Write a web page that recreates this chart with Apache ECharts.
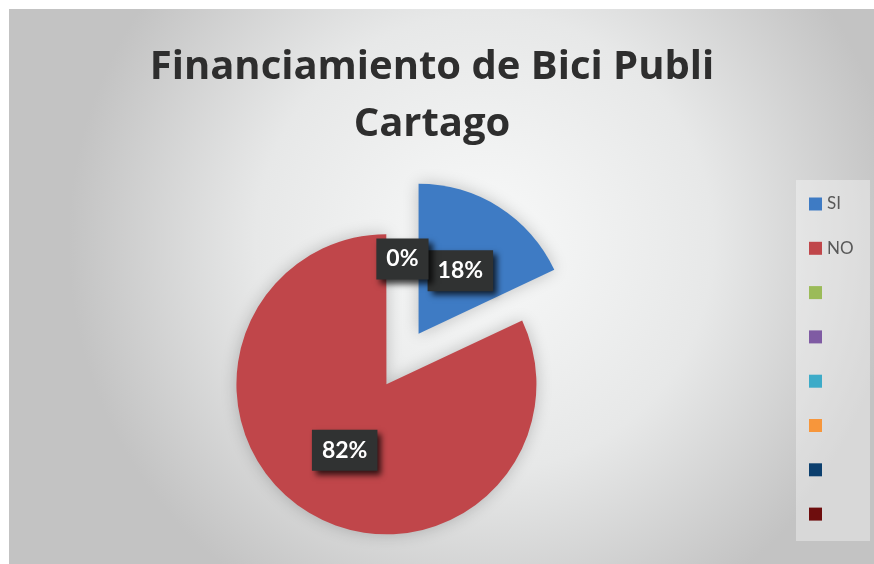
<!DOCTYPE html>
<html>
<head>
<meta charset="utf-8">
<script src="https://cdn.jsdelivr.net/npm/echarts@6/dist/echarts.min.js"></script>
<style>
  html, body { margin: 0; padding: 0; background: #fff; }
  #chart { position: absolute; left: 9px; top: 9px; width: 865px; height: 555px; }
</style>
</head>
<body>
<div id="chart"></div>
<script>
// 数据：类别、数值、颜色
const categories = ['SI', 'NO', ' ', '  ', '   ', '    ', '     ', '      '];
const values = [18, 82, 0, '-', '-', '-', '-', '-'];
const colors = ['#3E7BC4', '#C0464A', '#9BBB59', '#7F5BA3', '#3DABC8', '#F7963B', '#0C3F6E', '#6E0D0D'];
const titleText = 'Financiamiento de Bici Publi\nCartago';
// 标签微调（按数据下标）
const labelShiftY = [3, 0, 8, 0, 0, 0, 0, 0];

const chart = echarts.init(document.getElementById('chart'));

// 标签样式（深色底 + 阴影）
const labelBox = {
  show: true,
  position: 'inside',
  formatter: p => Math.round(p.percent) + '%',
  color: '#fff',
  fontFamily: 'Lato',
  fontWeight: 'bold',
  fontSize: 23,
  backgroundColor: '#303232',
  padding: [10, 10, 8, 10],
  shadowColor: 'rgba(0,0,0,0.75)',
  shadowBlur: 6,
  shadowOffsetX: 4,
  shadowOffsetY: 4
};

const pieData = categories.map((name, i) => {
  const item = {
    name,
    value: values[i],
    selected: true,
    itemStyle: { color: colors[i] }
  };
  if (values[i] === 0) {
    // 0 值扇区只保留标签，不画细线
    item.itemStyle = { color: 'rgba(0,0,0,0)', shadowBlur: 0 };
  }
  if (values[i] === '-') item.label = { show: false };
  return item;
});

chart.setOption({
  animation: false,
  backgroundColor: {
    type: 'radial', x: 0.55, y: 0.42, r: 0.75,
    colorStops: [
      { offset: 0, color: '#f8f9f9' },
      { offset: 0.55, color: '#e7e8e8' },
      { offset: 1, color: '#c3c3c3' }
    ]
  },
  title: {
    text: titleText,
    left: 418,
    top: 25,
    textAlign: 'center',
    textStyle: {
      fontFamily: 'Open Sans',
      fontWeight: 'bold',
      fontSize: 40,
      lineHeight: 57,
      color: '#2e2e2e'
    }
  },
  graphic: [{
    type: 'rect',
    z: 0,
    shape: { x: 787, y: 171, width: 74, height: 361 },
    style: { fill: 'rgba(255,255,255,0.35)' }
  }],
  legend: {
    orient: 'vertical',
    left: 800,
    top: 185,
    padding: 0,
    itemWidth: 13,
    itemHeight: 13,
    itemGap: 24.3,
    icon: 'rect',
    selectedMode: false,
    data: categories.map((name, i) => ({ name, itemStyle: { color: colors[i], opacity: 1 } })),
    textStyle: { fontFamily: 'Lato', fontSize: 17, lineHeight: 20, color: '#595959' }
  },
  series: [{
    type: 'pie',
    center: [393.5, 350],
    radius: [0, 150],
    startAngle: 90,
    clockwise: true,
    minAngle: 0.05,
    selectedMode: 'multiple',
    selectedOffset: 30,
    emphasis: { disabled: true },
    itemStyle: { shadowBlur: 16, shadowColor: 'rgba(0,0,0,0.22)' },
    label: labelBox,
    labelLine: { show: false },
    labelLayout: p => ({ dy: labelShiftY[p.dataIndex] || 0, hideOverlap: false }),
    data: pieData
  }]
});
</script>
</body>
</html>
